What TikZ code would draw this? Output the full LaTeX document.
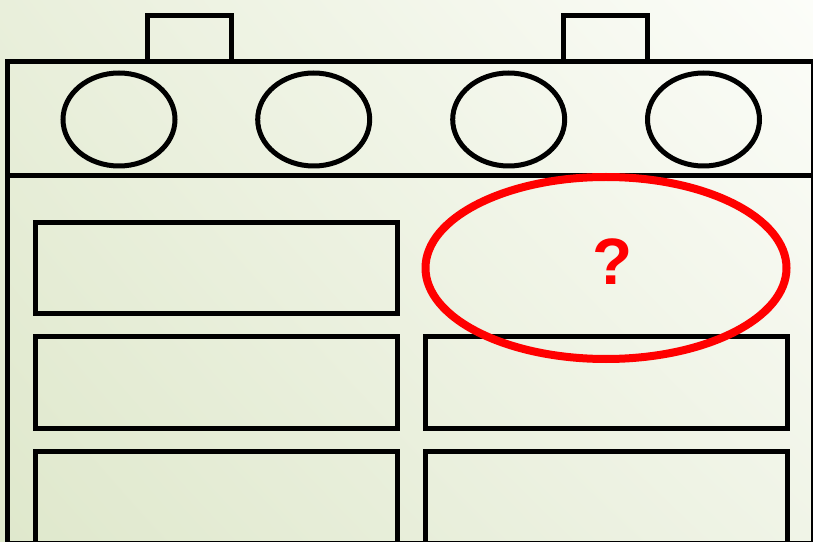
\documentclass[tikz,border=0pt]{standalone}
\usepackage{fontspec}
\setmainfont{Liberation Sans}
\usepackage{tikz}
\usetikzlibrary{positioning, calc, shadings}
\definecolor{bgLL}{RGB}{223,232,204}
\definecolor{bgUL}{RGB}{233,239,219}
\definecolor{bgLR}{RGB}{240,244,231}
\definecolor{bgUR}{RGB}{252,253,249}
\tikzset{
    outline/.style={draw=black, line width=0.15cm},
    burner/.style={draw=black, line width=0.15cm},
    drawer/.style={draw=black, line width=0.15cm},
    mark_red/.style={draw=red, line width=0.24cm},
    ask/.style={text=red, font=\bfseries\fontsize{56}{60}\selectfont, inner sep=0pt}
}
\begin{document}
\begin{tikzpicture}[x=0.03cm, y=-0.03cm]

\useasboundingbox (0,0) rectangle (813,542);
\shade[lower left=bgLL, upper left=bgUL, lower right=bgLR, upper right=bgUR]
    (0,0) rectangle (813,542);
\clip (0,0) rectangle (813,542);

% knobs on top
\draw[outline] (147,61.5) -- (147,15.5) -- (231,15.5) -- (231,61.5);
\draw[outline] (563,61.5) -- (563,15.5) -- (647,15.5) -- (647,61.5);

% body
\draw[outline] (7.5,61.5) rectangle (813.5,543.5);
\draw[outline] (7.5,175.5) -- (813.5,175.5);

% burners
\draw[burner] (119,119.5) ellipse [x radius=56, y radius=46.5];
\draw[burner] (313.7,119.5) ellipse [x radius=56, y radius=46.5];
\draw[burner] (508.7,119.5) ellipse [x radius=56, y radius=46.5];
\draw[burner] (703.5,119.5) ellipse [x radius=56, y radius=46.5];

% drawers, left column
\draw[drawer] (35.5,222.5) rectangle (397.5,313.5);
\draw[drawer] (35.5,336.5) rectangle (397.5,428.5);
\draw[drawer] (35.5,451.5) rectangle (397.5,570);

% drawers, right column
\draw[drawer] (425,336.5) rectangle (787.5,428.5);
\draw[drawer] (425,451.5) rectangle (787.5,570);

% missing drawer
\draw[mark_red] (606,268) ellipse [x radius=180.5, y radius=91];
\node (unknown) [ask] at (612.5,261.5) {?};

\end{tikzpicture}
\end{document}
